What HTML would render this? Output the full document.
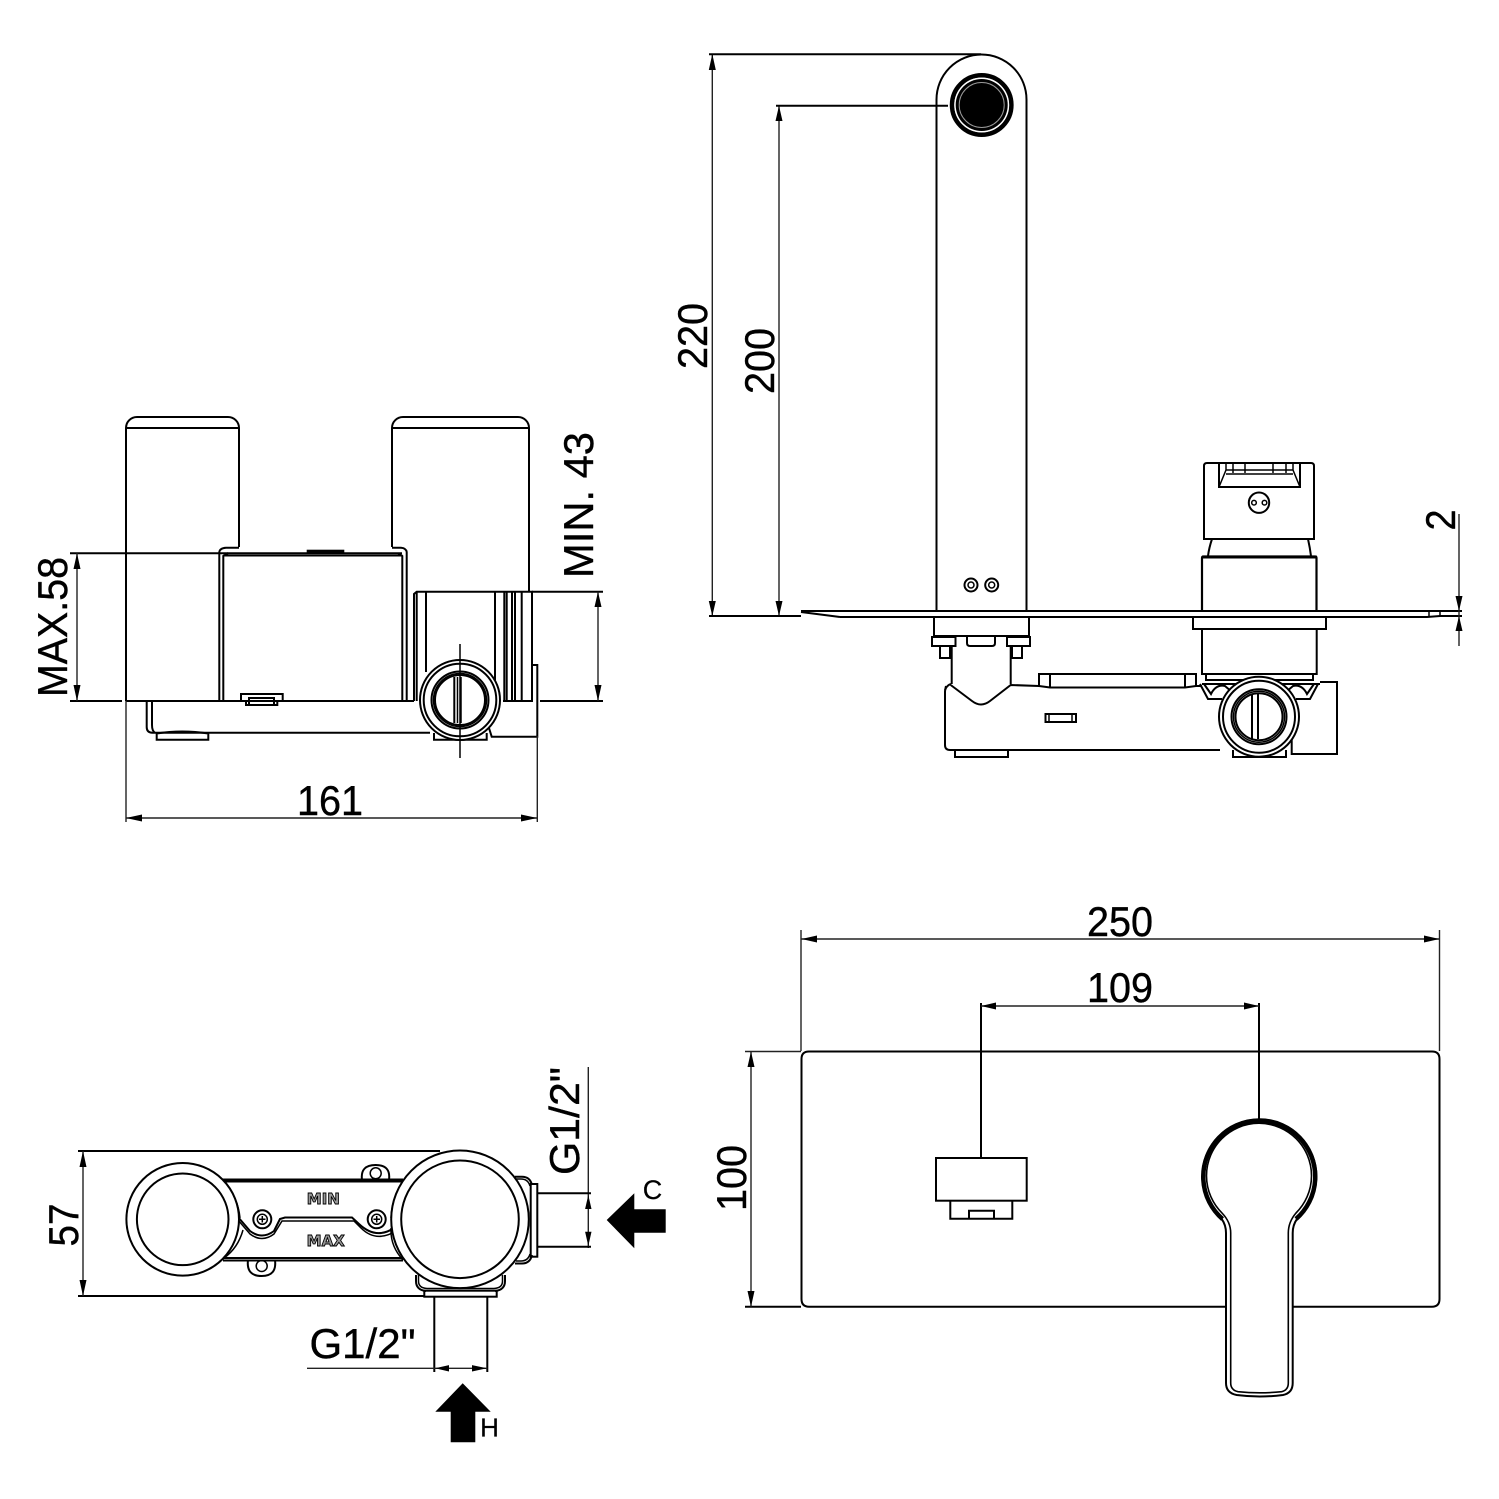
<!DOCTYPE html>
<html><head><meta charset="utf-8"><style>
html,body{margin:0;padding:0;background:#fff}
svg{display:block}
text{font-family:"Liberation Sans",sans-serif;font-size:42px;fill:#000;stroke:#000;stroke-width:.4;text-anchor:middle}
.o{fill:none;stroke:#000;stroke-width:2}
.t{fill:none;stroke:#000;stroke-width:1.5}
.d{fill:none;stroke:#222;stroke-width:1.4}
.w{fill:#fff;stroke:#000;stroke-width:2}
.a{fill:#000;stroke:none}
text.m{font-family:"DejaVu Sans",sans-serif;font-size:15px;font-weight:bold;fill:#999;stroke:#000;stroke-width:.9}
</style></head><body>
<svg width="1499" height="1499" viewBox="0 0 1499 1499" xmlns="http://www.w3.org/2000/svg">
<rect width="1499" height="1499" fill="#fff"/>

<!-- TOP RIGHT: side view -->
<g>
<path class="o" d="M936.5 611V99.5a45 45 0 0 1 90 0V611"/>
<circle cx="981.7" cy="105" r="29.7" fill="none" stroke="#000" stroke-width="4.5"/>
<circle cx="981.7" cy="105" r="27.4" fill="#fff"/>
<circle cx="981.7" cy="105" r="26" fill="#000"/>
<circle cx="981.7" cy="105" r="22.5" fill="none" stroke="#999" stroke-width="1"/>
<circle cx="971" cy="585" r="6.5" class="o"/><circle cx="971" cy="585" r="3" class="t"/>
<circle cx="991.7" cy="585" r="6.5" class="o"/><circle cx="991.7" cy="585" r="3" class="t"/>
<path class="o" d="M801 611H1462M840 617H1192M1326 617H1427L1440 616H1462M801 612L840 617"/>
<path class="t" d="M1429 611V616M1440 611V616"/>
<!-- under plate, spout -->
<path class="o" d="M934 617V636H1029V617"/>
<path class="o" d="M932 637H955.5V646H932ZM1007 637H1030V646H1007ZM940 646V658H950V646M1012 646V658H1022V646"/>
<path class="o" d="M967 637V643Q967 646 970 646H992Q995 646 995 643V637"/>
<path class="o" d="M951.7 646V684M1010.7 646V684"/>
<path class="o" d="M946 686Q945 690 945 692V745Q945 750 950 750H1220"/>
<path class="o" d="M951 684Q947 685 945 690M950.7 685L972 701Q981 708 990 701L1010.7 685L1039 686"/>
<path class="o" d="M1039 674H1196V686L1185 687.5H1050L1039 686ZM1050 674V687M1185 674V687M1196 686H1202"/>
<rect class="o" x="1045.5" y="714" width="30.5" height="8"/>
<path class="t" d="M1049 714V722M1072 714V722"/>
<path class="o" d="M955 750V757H1008V750M1233 750V757H1286V750"/>
<!-- handle -->
<path class="o" d="M1204 539V466q0-3 3-3H1311q3 0 3 3V539Z"/>
<path class="o" d="M1219 463V487H1300V463"/>
<path class="t" d="M1219 487L1226 470V463M1300 487L1293 470V463M1226 470H1293M1226 474H1293M1233 463V473M1286 463V473M1245 463V473M1273 463V473"/>
<circle cx="1259" cy="502.7" r="10.2" class="o"/>
<circle cx="1254" cy="502.7" r="2.3" class="t"/><circle cx="1264.5" cy="502.7" r="2.3" class="t"/>
<path class="o" d="M1212 539Q1209 548 1208 556M1308 539Q1310 548 1311 556"/>
<path class="o" d="M1202 611V558q0-1.500 1.500-1.500H1315q1.500 0 1.500 1.500V611" style="stroke-width:2.2"/>
<path class="o" d="M1202 557H1316.700" style="stroke-width:3"/>
<rect class="o" x="1193" y="617" width="133" height="12"/>
<path class="o" d="M1202 629V674H1316.700V629M1206 674V681M1313 674V681M1206 680H1313M1202 684H1320"/>
<!-- claws -->
<path class="o" d="M1200 684L1208 699H1222M1204 684L1211 694Q1216 684 1225 686L1232 692"/>
<path class="o" d="M1318 684L1310 699H1296M1314 684L1307 694Q1302 684 1293 686L1286 692"/>
<!-- right box -->
<path class="o" d="M1320 682H1337V754H1291.700V738"/>
<!-- valve circle -->
<circle cx="1259" cy="716.700" r="40" class="w"/>
<circle cx="1259" cy="716.700" r="36" class="o"/>
<circle cx="1259" cy="716.700" r="27.500" class="o"/>
<circle cx="1259" cy="716.700" r="25.500" class="t"/>
<circle cx="1259" cy="716.700" r="23.500" class="o"/>
<path class="o" d="M1252 694V739M1258 694V739"/>
<!-- dims -->
<path class="d" d="M712.300 54V616M779 105V616"/>
<path class="o" d="M709 54.300H981M776 105.700H948M709 616H801"/>
<path class="a" d="M712.300 54L715.800 70H708.800ZM779 105.700L782.500 121H775.500Z"/>
<path class="a" d="M712.300 616L715.800 601H708.800ZM779 616L782.500 601H775.500Z"/>
<path class="d" d="M1459 514V646"/>
<path class="a" d="M1459 611L1455.500 596H1462.500ZM1459 616L1462.500 631H1455.500Z"/>
<text transform="translate(707 336) rotate(-90)" textLength="66" lengthAdjust="spacingAndGlyphs">220</text>
<text transform="translate(774 361) rotate(-90)" textLength="66" lengthAdjust="spacingAndGlyphs">200</text>
<text transform="translate(1455 520) rotate(-90)" textLength="21" lengthAdjust="spacingAndGlyphs">2</text>
</g>

<!-- TOP LEFT -->
<g>
<path class="o" d="M126 701V428a11 11 0 0 1 11-11H228a11 11 0 0 1 11 11V547M126 428H239"/>
<path class="o" d="M392 547V428a11 11 0 0 1 11-11H518a11 11 0 0 1 11 11V591.700M392 428H529.500"/>
<path class="o" d="M219.300 701V552Q220 548 226 547.700H239M223.300 701V556l5-3M392 547.700H401Q406 548 406.700 552V701M402.300 701V556l-4-2.700"/>
<path class="o" d="M70 553.300H402M223.300 555.500H402.300"/>
<rect class="a" x="306.700" y="549.700" width="37.600" height="3"/>
<path class="o" d="M241 701V694H282.700V701M70 701H122M126 701H414M246 701V705H277.300V701M249 698H274V705H249Z"/>
<!-- lower body -->
<path class="o" d="M146.700 701V727q0 5.700 5.700 5.700H430M152 701V725q0 6 3 7.700"/>
<path class="o" d="M156.700 733.500V739.700H208.300V733.500Q182 729.500 156.700 733.500ZM434 733V739.700H486.700V733"/>
<!-- right block -->
<path class="o" d="M414 701V594l2.700-2.300H532V665H537.300V736.700H491.700L489 728"/>
<path class="o" d="M416.700 592V701M426 592V672M495 592V680M504.300 592V701M506.700 592V701M512 592V701M515 592V701M521.700 592V701M532 665V701H503"/>
<path class="o" d="M532 591.700H603M540 701H603"/>
<circle cx="460" cy="700" r="40" class="w"/>
<circle cx="460" cy="700" r="36.300" class="o"/>
<circle cx="460" cy="700" r="28.500" class="o"/>
<circle cx="460" cy="700" r="26.500" class="t"/>
<circle cx="460" cy="700" r="25" class="o"/>
<path class="o" d="M454.300 677V723"/><path class="t" d="M457.500 677V723M461 677V723"/>
<path class="t" d="M460 644V758"/>
<!-- dims -->
<path class="d" d="M77 553V701M598 591.700V701M126 701V822M537.300 736V822M126 818H537.300"/>
<path class="a" d="M77 553.300L80.500 569H73.500ZM77 701L80.500 685H73.500ZM598 591.700L601.500 607H594.500ZM598 701L601.500 685H594.500Z"/>
<path class="a" d="M126 818L142 814.500V821.500ZM537.300 818L521 814.500V821.500Z"/>
<text x="330" y="815" textLength="66" lengthAdjust="spacingAndGlyphs">161</text>
<text transform="translate(67 627) rotate(-90)" textLength="140" lengthAdjust="spacingAndGlyphs">MAX.58</text>
<text transform="translate(593 505) rotate(-90)" textLength="146" lengthAdjust="spacingAndGlyphs">MIN. 43</text>
</g>

<!-- BOTTOM LEFT -->
<g>
<path class="o" d="M78 1151H440M78 1296H424"/>
<path class="o" d="M223 1179.500H403M223 1181.500H403M223 1258H403M223 1260.500H403"/>
<path class="o" d="M238 1217L250 1231Q262 1240 274 1231L280 1219L285 1217.500H352L359 1224Q376 1240 394 1228L399 1220"/>
<path class="t" d="M238 1220L250 1234Q262 1243 274 1234L282 1221H354L361 1228Q376 1243 396 1231"/>
<circle cx="262.300" cy="1219.300" r="9" class="o"/><circle cx="262.300" cy="1219.300" r="5" class="t"/>
<circle cx="376.700" cy="1219.300" r="9" class="o"/><circle cx="376.700" cy="1219.300" r="5" class="t"/>
<path class="t" d="M259 1219.300H265.500M262.300 1216V1222.500M373.500 1219.300H380M376.700 1216V1222.500"/>
<path class="o" d="M362 1180Q360 1165 375.700 1165Q391 1165 389 1180"/>
<circle cx="375.700" cy="1173.300" r="5.500" class="t"/>
<path class="o" d="M248 1260Q246 1276 261.700 1276Q277 1276 275 1260"/>
<circle cx="261.700" cy="1266" r="5.500" class="t"/>
<text class="m" x="323.300" y="1204">MIN</text>
<text class="m" x="325.700" y="1246">MAX</text>
<path class="t" d="M224 1182Q238 1197 240 1218M224 1258Q238 1248 243 1230M403 1181Q392 1197 391 1218M403 1260Q390 1246 391 1228"/>
<circle cx="182.700" cy="1219.300" r="56.300" class="w"/>
<circle cx="182.700" cy="1219.300" r="45.800" class="o"/>
<path class="o" d="M515 1176.700H522Q530 1176.700 532 1185M515 1263.500H522Q530 1263.500 532 1255"/>
<path class="t" d="M516 1179H521Q528 1179 530 1186M516 1261H521Q528 1261 530 1254"/>
<rect class="o" x="530.700" y="1184" width="6.600" height="72.700"/>
<path class="o" d="M416 1275V1281Q416 1290 426 1291M505 1275V1281Q505 1290 495 1291"/>
<path class="t" d="M418.500 1275V1281Q418.500 1288 427 1288.500H494Q502.500 1288 502.500 1281V1275"/>
<rect class="o" x="424.300" y="1290.700" width="72.400" height="6"/>
<circle cx="460" cy="1219.300" r="68.800" class="w"/>
<circle cx="460" cy="1219.300" r="58.800" class="o"/>
<!-- dims -->
<path class="d" d="M83 1151V1296M588.300 1067V1248"/>
<path class="a" d="M83 1151L86.500 1167H79.500ZM83 1296L86.500 1280H79.500Z"/>
<path class="a" d="M588.300 1195L591.500 1209H585.100ZM588.300 1246L591.500 1231.700H585.100Z"/>
<path class="o" d="M537 1193.300H591M537 1246.700H591M434.300 1297V1372M487.300 1297V1372"/>
<path class="d" d="M307 1368.300H487.300"/>
<path class="a" d="M435 1368.300L449 1365.100V1371.500ZM487 1368.300L472 1365.100V1371.500Z"/>
<path class="a" d="M606.700 1220L634.300 1193.300V1209.300H665.700V1232.700H634.300V1248.300Z"/>
<path class="a" d="M462.700 1383.300L490.700 1411.700H475.300V1442.300H450.700V1411.700H435.300Z"/>
<text x="652.500" y="1199" style="font-size:27px;stroke-width:.2">C</text>
<text x="489.500" y="1436.500" style="font-size:26px;stroke-width:.2">H</text>
<text transform="translate(78 1225) rotate(-90)" textLength="43" lengthAdjust="spacingAndGlyphs">57</text>
<text transform="translate(579 1121) rotate(-90)" textLength="108" lengthAdjust="spacingAndGlyphs">G1/2"</text>
<text x="362.500" y="1358" textLength="106" lengthAdjust="spacingAndGlyphs">G1/2"</text>
</g>

<!-- BOTTOM RIGHT -->
<g>
<path class="o" d="M1226 1306.700H809Q801.500 1306.700 801.500 1299V1059Q801.500 1051.500 809 1051.500H1432Q1439.500 1051.500 1439.500 1059V1299Q1439.500 1306.700 1432 1306.700H1292.700"/>
<rect class="o" x="936" y="1158" width="90.700" height="42.700"/>
<path class="o" d="M950.300 1200.700V1218.700H1012.300V1200.700M969 1218.700V1210.700H994V1218.700"/>
<path class="o" d="M1226 1233Q1226 1225 1221.700 1219A57 57 0 1 1 1297 1219Q1292.700 1225 1292.700 1233V1383Q1292.700 1393 1283 1395Q1259.500 1398 1236.700 1395Q1226 1393 1226 1383Z" style="stroke-width:2"/>
<path class="o" d="M1230.700 1233Q1230.700 1222 1222 1213A52.500 52.500 0 1 1 1296 1213Q1288.300 1222 1288.300 1233V1383Q1288.300 1390 1281.700 1391.700Q1259.500 1394 1238 1391.700Q1230.700 1390 1230.700 1383Z" style="stroke-width:1.600"/>
<path fill="none" stroke="#000" stroke-width="4.500" d="M1222.500 1219A56 56 0 1 1 1296 1219"/>
<path class="d" d="M801 930V1051M1439.500 930V1051M745 1051.500H801"/>
<path class="o" d="M745 1306.700H801M981 1003V1158M1259 1003V1120"/>
<path class="d" d="M751 1051.500V1306.700M801.500 939H1439.500M981 1006H1259"/>
<path class="a" d="M751 1051.500L754.500 1067H747.500ZM751 1306.700L754.500 1291H747.500Z"/>
<path class="a" d="M801.500 939L817 935.500V942.500ZM1439.500 939L1424 935.500V942.500ZM981 1006L996 1002.500V1009.500ZM1259 1006L1244 1002.500V1009.500Z"/>
<text x="1120" y="936" textLength="66" lengthAdjust="spacingAndGlyphs">250</text>
<text x="1120" y="1002" textLength="66" lengthAdjust="spacingAndGlyphs">109</text>
<text transform="translate(746 1178) rotate(-90)" textLength="66" lengthAdjust="spacingAndGlyphs">100</text>
</g>
</svg>
</body></html>
